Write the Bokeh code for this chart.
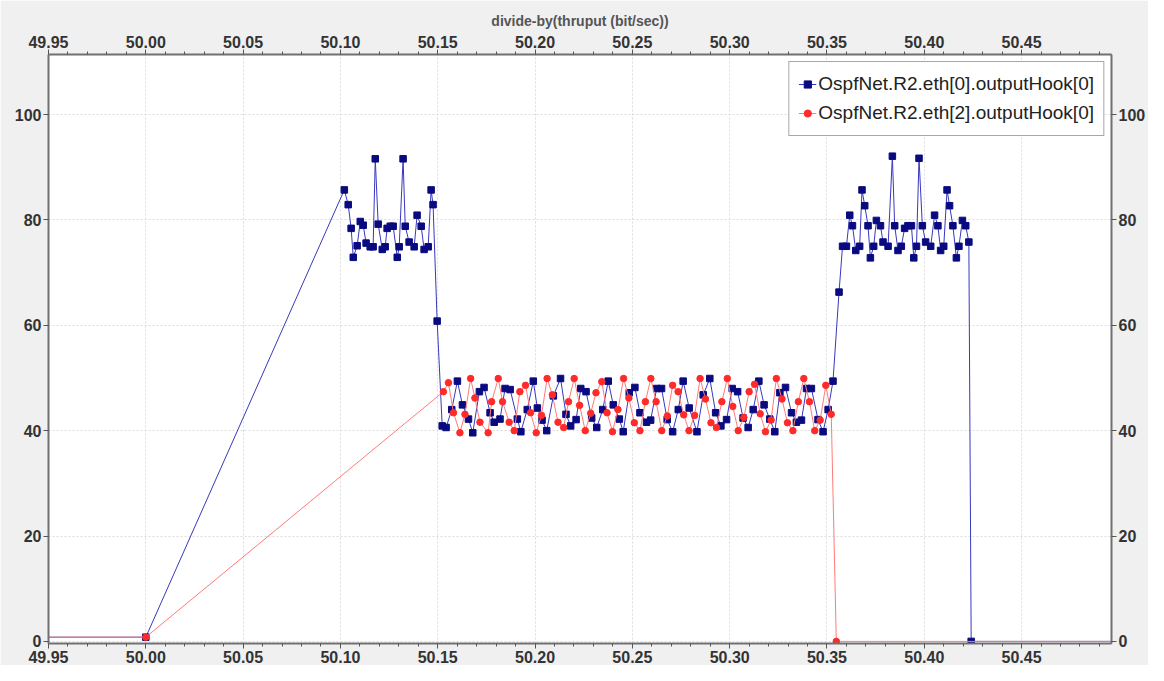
from bokeh.plotting import figure
from bokeh.models import Range1d, LinearAxis, FixedTicker, NumeralTickFormatter
from bokeh.embed import file_html
from bokeh.resources import INLINE

# ---- data ----
title_text = "divide-by(thruput (bit/sec))"
series_names = ["OspfNet.R2.eth[0].outputHook[0]", "OspfNet.R2.eth[2].outputHook[0]"]

x_ticks = [49.95, 50.00, 50.05, 50.10, 50.15, 50.20, 50.25, 50.30, 50.35, 50.40, 50.45]
x_minor_ticks = [49.96, 49.97, 49.98, 49.99, 50.01, 50.02, 50.03, 50.04, 50.06, 50.07, 50.08, 50.09,
                 50.11, 50.12, 50.13, 50.14, 50.16, 50.17, 50.18, 50.19, 50.21, 50.22, 50.23, 50.24,
                 50.26, 50.27, 50.28, 50.29, 50.31, 50.32, 50.33, 50.34, 50.36, 50.37, 50.38, 50.39,
                 50.41, 50.42, 50.43, 50.44, 50.46, 50.47, 50.48, 50.49]
y_ticks = [0, 20, 40, 60, 80, 100]

# eth[0] (blue)
blue_x_start = [49.90, 50.0000]
blue_y_start = [0.8, 0.8]
blue_x_burst1 = [50.1020, 50.1040, 50.1055, 50.1066, 50.1086, 50.1102, 50.1117, 50.1132,
                 50.1153, 50.1168, 50.1179, 50.1194, 50.1215, 50.1230, 50.1240, 50.1256,
                 50.1271, 50.1292, 50.1302, 50.1322, 50.1333, 50.1353, 50.1379, 50.1394,
                 50.1415, 50.1430, 50.1451, 50.1466, 50.1476, 50.1497, 50.1523]
blue_y_burst1 = [85.7, 82.9, 78.4, 72.9, 75.1, 79.7, 79.0, 75.6,
                 74.9, 74.9, 91.6, 79.2, 74.4, 74.9, 78.4, 78.8,
                 78.8, 72.9, 74.9, 91.6, 78.8, 75.8, 74.9, 80.9,
                 78.8, 74.4, 74.9, 85.7, 82.9, 60.8, 40.9]
blue_x_shared = [50.1543, 50.1572, 50.1601, 50.1627, 50.1658, 50.1680, 50.1714, 50.1738,
                 50.1769, 50.1790, 50.1820, 50.1846, 50.1872, 50.1909, 50.1927, 50.1960,
                 50.1991, 50.2012, 50.2036, 50.2060, 50.2094, 50.2131, 50.2159, 50.2183,
                 50.2211, 50.2235, 50.2262, 50.2291, 50.2317, 50.2348, 50.2376, 50.2402,
                 50.2433, 50.2453, 50.2484, 50.2513, 50.2539, 50.2573, 50.2594, 50.2625,
                 50.2650, 50.2679, 50.2707, 50.2736, 50.2761, 50.2792, 50.2832, 50.2864,
                 50.2898, 50.2928, 50.2955, 50.2984, 50.3013, 50.3041, 50.3069, 50.3095,
                 50.3121, 50.3150, 50.3177, 50.3206, 50.3232, 50.3258, 50.3287, 50.3318,
                 50.3343, 50.3369, 50.3395, 50.3420, 50.3454, 50.3480, 50.3506, 50.3531]
blue_y_shared = [40.6, 44.0, 49.4, 44.9, 42.2, 39.6, 47.4, 48.2,
                 43.4, 41.6, 42.2, 48.0, 47.8, 42.2, 39.8, 44.0,
                 49.4, 44.3, 42.0, 40.0, 46.6, 49.9, 43.1, 40.9,
                 42.1, 48.0, 47.4, 42.4, 40.6, 44.0, 49.4, 44.9,
                 42.2, 39.8, 47.2, 48.2, 43.4, 41.6, 42.0, 48.0,
                 48.0, 42.1, 39.8, 44.0, 49.4, 44.3, 39.8, 46.8,
                 49.9, 43.4, 40.9, 42.1, 48.0, 47.4, 42.4, 40.6,
                 44.0, 49.4, 44.9, 42.2, 39.8, 47.2, 48.2, 43.4,
                 41.6, 42.0, 48.0, 48.0, 42.1, 39.8, 44.0, 49.4]
blue_x_burst2 = [50.3562, 50.3580, 50.3600, 50.3617, 50.3631, 50.3648, 50.3668, 50.3680,
                 50.3694, 50.3711, 50.3723, 50.3740, 50.3754, 50.3775, 50.3788, 50.3814,
                 50.3836, 50.3848, 50.3865, 50.3882, 50.3899, 50.3916, 50.3934, 50.3946,
                 50.3960, 50.3973, 50.3990, 50.4007, 50.4033, 50.4053, 50.4070, 50.4084,
                 50.4100, 50.4117, 50.4130, 50.4147, 50.4165, 50.4178, 50.4196, 50.4213,
                 50.4229]
blue_y_burst2 = [66.3, 75.0, 75.0, 80.9, 78.9, 74.2, 75.0, 85.7,
                 82.7, 78.9, 72.8, 75.0, 79.9, 78.9, 75.8, 75.0,
                 92.1, 78.9, 74.2, 75.0, 78.4, 78.9, 78.9, 72.8,
                 75.0, 91.7, 78.9, 75.8, 75.0, 80.9, 78.9, 74.2,
                 75.0, 85.7, 82.7, 78.9, 72.8, 75.0, 79.9, 78.9,
                 75.8]
blue_x_end = [50.4241, 50.60]
blue_y_end = [0.0, 0.0]

# eth[2] (red)
red_x_start = [49.90, 50.0000]
red_y_start = [0.8, 0.8]
red_x_shared = [50.1529, 50.1555, 50.1581, 50.1614, 50.1640, 50.1669, 50.1691, 50.1717,
                50.1759, 50.1777, 50.1811, 50.1833, 50.1867, 50.1893, 50.1922, 50.1951,
                50.1977, 50.2006, 50.2033, 50.2062, 50.2089, 50.2118, 50.2147, 50.2172,
                50.2201, 50.2229, 50.2258, 50.2286, 50.2313, 50.2343, 50.2370, 50.2398,
                50.2426, 50.2455, 50.2482, 50.2510, 50.2539, 50.2567, 50.2595, 50.2622,
                50.2651, 50.2680, 50.2707, 50.2735, 50.2764, 50.2791, 50.2820, 50.2848,
                50.2876, 50.2904, 50.2932, 50.2960, 50.2988, 50.3016, 50.3044, 50.3073,
                50.3100, 50.3128, 50.3157, 50.3184, 50.3213, 50.3240, 50.3269, 50.3297,
                50.3325, 50.3353, 50.3381, 50.3410, 50.3437, 50.3465, 50.3494, 50.3522]
red_y_shared = [47.4, 49.1, 43.4, 39.6, 43.1, 49.9, 46.2, 41.6,
                39.6, 45.5, 49.9, 45.5, 41.6, 40.0, 47.4, 48.6,
                43.4, 39.6, 42.9, 49.9, 46.8, 41.6, 40.6, 45.5,
                49.9, 44.8, 40.0, 43.3, 47.2, 49.3, 43.4, 39.8,
                44.0, 49.9, 46.2, 41.5, 40.0, 45.5, 49.9, 45.5,
                40.0, 42.8, 48.6, 47.4, 43.0, 40.0, 42.9, 49.9,
                46.0, 41.5, 40.6, 45.5, 49.9, 44.6, 40.0, 42.5,
                47.4, 48.8, 43.2, 39.8, 42.0, 49.9, 46.0, 41.5,
                40.0, 45.5, 49.9, 45.5, 40.0, 42.0, 48.6, 43.1]
red_x_end = [50.3548, 50.60]
red_y_end = [0.0, 0.0]

blue_x = blue_x_start + blue_x_burst1 + blue_x_shared + blue_x_burst2 + blue_x_end
blue_y = blue_y_start + blue_y_burst1 + blue_y_shared + blue_y_burst2 + blue_y_end
red_x = red_x_start + red_x_shared + red_x_end
red_y = red_y_start + red_y_shared + red_y_end
assert len(blue_x) == len(blue_y), (len(blue_x), len(blue_y))
assert len(red_x) == len(red_y), (len(red_x), len(red_y))

# ---- figure ----
FONT = "Liberation Sans"
p = figure(width=1148, height=665, output_backend="svg", toolbar_location=None,
           x_range=Range1d(49.95, 50.4962), y_range=Range1d(-0.4, 111.4),
           x_axis_location="above", y_axis_location="left",
           min_border_left=48, min_border_right=36, min_border_top=54, min_border_bottom=22)
p.border_fill_color = "#f0f0f0"
p.background_fill_color = "white"
p.outline_line_color = "#808080"
p.outline_line_width = 1

p.title.text = title_text
p.title.align = "center"
p.title.text_font = FONT
p.title.text_font_size = "14px"
p.title.text_font_style = "bold"
p.title.text_color = "#555555"
p.title.standoff = 8

xticker = FixedTicker(ticks=x_ticks, minor_ticks=x_minor_ticks)
yticker = FixedTicker(ticks=y_ticks)

bottom_axis = LinearAxis()
right_axis = LinearAxis()
p.add_layout(bottom_axis, "below")
p.add_layout(right_axis, "right")

for ax in p.xaxis:
    ax.ticker = xticker
    ax.formatter = NumeralTickFormatter(format="0.00")
for ax in p.yaxis:
    ax.ticker = yticker
for ax in p.xaxis + p.yaxis:
    ax.major_label_text_font = FONT
    ax.major_label_text_font_size = "16px"
    ax.major_label_text_font_style = "bold"
    ax.major_label_text_color = "#333333"
    ax.axis_line_color = "#707070"
    ax.axis_line_width = 2
    ax.major_tick_line_color = "#555555"
    ax.minor_tick_line_color = "#555555"
    ax.major_tick_in = 0
    ax.major_tick_out = 5
    ax.minor_tick_in = 0
    ax.minor_tick_out = 3
    ax.major_label_standoff = 2
for ax in p.yaxis:
    ax.minor_tick_out = 0

p.xgrid.ticker = xticker
p.ygrid.ticker = yticker
p.xgrid.grid_line_color = "#dcdcdc"
p.ygrid.grid_line_color = "#dcdcdc"
p.xgrid.grid_line_dash = "2 2"
p.ygrid.grid_line_dash = "2 2"

# series
p.line(blue_x, blue_y, line_color="#3838c0", line_width=1, legend_label=series_names[0])
p.scatter(blue_x, blue_y, marker="square", size=6.5, fill_color="#0a0a80", line_color="#0a0a80",
          legend_label=series_names[0])
p.line(red_x, red_y, line_color="#ff7a7a", line_width=1, legend_label=series_names[1])
p.scatter(red_x, red_y, marker="circle", size=6.5, fill_color="#ff2a2a", line_color="#ff2a2a",
          legend_label=series_names[1])

lg = p.legend[0]
lg.location = "top_right"
lg.margin = 7
lg.padding = 9
lg.spacing = 3
lg.label_height = 26
lg.glyph_width = 18
lg.glyph_height = 18
lg.label_standoff = 2
lg.label_text_font = FONT
lg.label_text_font_size = "19px"
lg.label_text_color = "#222222"
lg.border_line_color = "#505050"
lg.border_line_width = 1
lg.background_fill_alpha = 1.0

open("out.html", "w").write(file_html(p, INLINE))
